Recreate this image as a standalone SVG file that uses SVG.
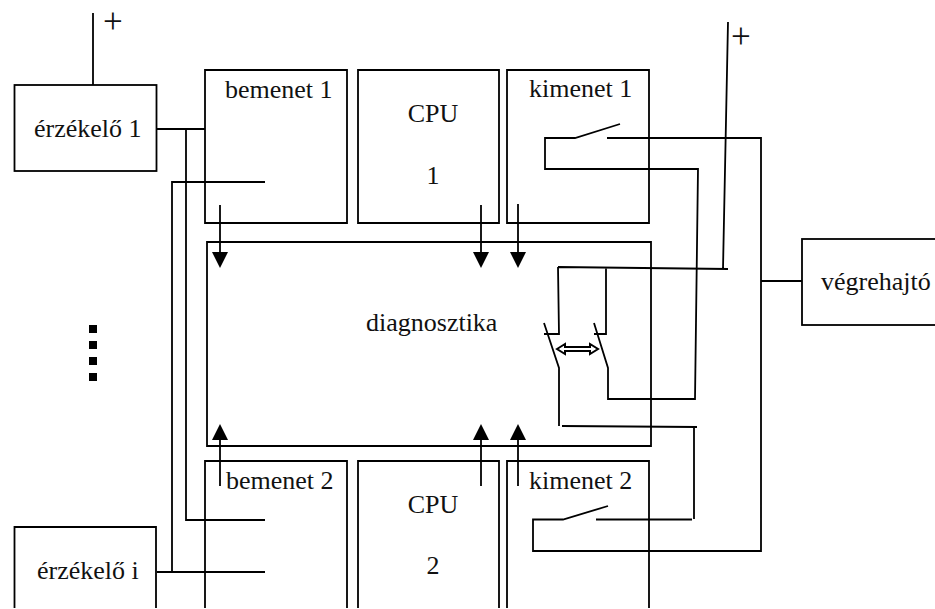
<svg xmlns="http://www.w3.org/2000/svg" width="935" height="609" viewBox="0 0 935 609">
<defs>
<style>
text{font-family:"Liberation Serif","Times New Roman",serif;font-size:26px;fill:#111}
.p{font-size:35px}
.b{fill:#fff;stroke:#000;stroke-width:1.800}
.c path{fill:none;stroke:#000;stroke-width:1.800}
.a{fill:#000}
</style>
</defs>
<rect width="935" height="609" fill="#fff"/>
<g id="erzekelo1"><rect class="b" x="14.500" y="85" width="142" height="86"/><text x="34" y="137">érzékelő 1</text></g>
<g id="bemenet1"><path class="b" d="M205 70H347V223H205Z"/><text x="225" y="98">bemenet 1</text></g>
<g id="cpu1"><path class="b" d="M358 70H499V223H358Z"/><text x="433" y="122" text-anchor="middle">CPU</text><text x="433" y="184" text-anchor="middle">1</text></g>
<g id="kimenet1"><path class="b" d="M507 70H649V223H507Z"/><text x="529" y="97">kimenet 1</text></g>
<g id="diagnosztika"><path class="b" d="M207 242H651V446H207Z"/><text x="366" y="331">diagnosztika</text></g>
<g id="vegrehajto"><rect class="b" x="802" y="239" width="140" height="86"/><text x="821" y="290">végrehajtó</text></g>
<g id="bemenet2"><path class="b" d="M205 608V461H347V608"/><text x="226" y="489">bemenet 2</text></g>
<g id="cpu2"><path class="b" d="M358 608V461H499V608"/><text x="433" y="513" text-anchor="middle">CPU</text><text x="433" y="574" text-anchor="middle">2</text></g>
<g id="kimenet2"><path class="b" d="M507 608V461H649V608"/><text x="529" y="489">kimenet 2</text></g>
<g id="erzekeloi"><path class="b" d="M14.500 608V527H156V608"/><text x="37" y="579">érzékelő i</text></g>
<g id="pontok"><path d="M93 325V381" stroke="#000" stroke-width="8" stroke-dasharray="8 8" fill="none"/></g>
<g id="connectors" class="c">
<path d="M93 13V85"/>
<path d="M157 129H205"/>
<path d="M186 129V520H265"/>
<path d="M265 182H172V572"/>
<path d="M157 572H265"/>
<path d="M220 205V255"/><path d="M481 205V255"/><path d="M518 204V255"/>
<path d="M220 486V440"/><path d="M481 486V440"/><path d="M518 486V440"/>
<path d="M607 138H761V551H533V519.500H563L608 506"/>
<path d="M761 281H802"/>
<path d="M620 124L575 138H545V169H698L695 399H608V368L594 323"/>
<path d="M728 22L723 269M558 267L728 269M558 267L559 334H544M606 268V334H594M607 334V334"/>
<path d="M544 323L559 368V426M562 426L697 427M694 426V519"/>
<path d="M596 519.500H692"/>
</g>
<g id="heads">
<path class="a" d="M212 252H228L220 268Z"/><path class="a" d="M473 252H489L481 268Z"/><path class="a" d="M510 252H526L518 268Z"/>
<path class="a" d="M212 440H228L220 424Z"/><path class="a" d="M473 440H489L481 424Z"/><path class="a" d="M510 440H526L518 424Z"/>
<path d="M557 349L565 344V347H590V344L598 349L590 354V351H565V354Z" fill="#fff" stroke="#000" stroke-width="2"/>
</g>
<text class="p" x="103" y="33">+</text>
<text class="p" x="731" y="48">+</text>
</svg>
